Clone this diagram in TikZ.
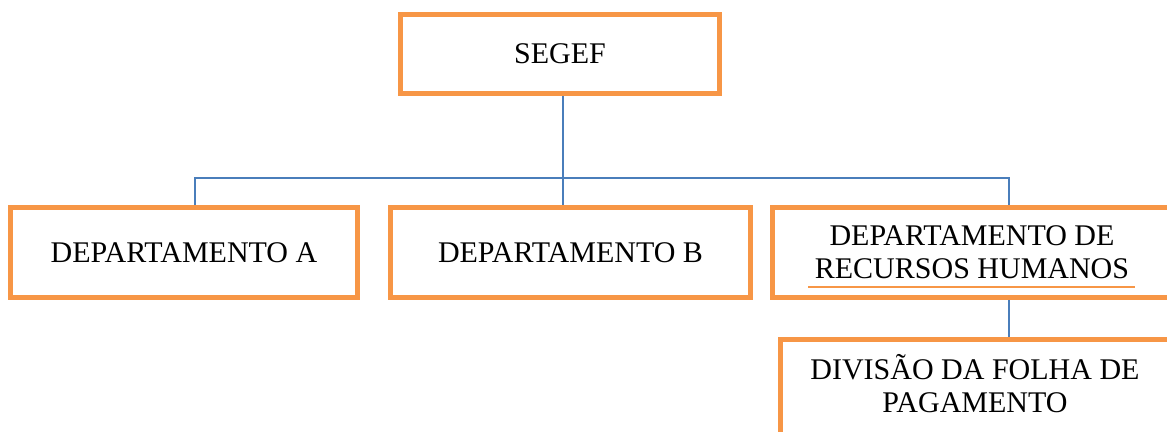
\documentclass[tikz,border=0pt]{standalone}
\usepackage{fontspec}
\setmainfont{Liberation Serif}
\usepackage{tikz}
\usetikzlibrary{positioning}
\usepackage{xcolor}
\definecolor{orgorange}{RGB}{247,150,70}
\definecolor{orgblue}{RGB}{74,126,187}
\tikzstyle{unit} = [rectangle, draw=orgorange, line width=2.5pt, fill=white, align=center, inner sep=0pt, minimum height=45pt, font=\fontsize{15}{16.5}\selectfont]
\tikzstyle{link} = [draw=orgblue, line width=0.75pt]
\tikzstyle{underline} = [draw=orgorange, line width=0.75pt]

\begin{document}
\begin{tikzpicture}[x=0.5pt, y=-0.5pt]
\useasboundingbox (0,0) rectangle (1167,432);
\clip (0,0) rectangle (1167,432);
% Top level
\node (segef) [unit, minimum width=159.5pt, minimum height=39.5pt] at (560,54) {SEGEF};
% Departments
\node (depA) [unit, minimum width=173.5pt] at (184,252.5) {DEPARTAMENTO A};
\node (depB) [unit, minimum width=180pt] at (570.5,252.5) {DEPARTAMENTO B};
\node (depRH) [unit, minimum width=199.5pt] at (972,252.5) {DEPARTAMENTO DE\\RECURSOS HUMANOS};
% Division (runs off the bottom edge)
\node (divFP) [unit, minimum width=195pt, minimum height=0pt, text height=36.75pt, text depth=30pt, anchor=north] at (975,337) {DIVIS\~AO DA FOLHA DE\\PAGAMENTO};

\draw[link] ([xshift=1.5pt]segef.south) -- ([xshift=-3.75pt]depB.north);
\draw[link] ([xshift=5.5pt]depA.north) -- ++(0,-27) -| ([xshift=18.5pt]depRH.north);
\draw[link] ([xshift=18.5pt]depRH.south) -- ([xshift=18.5pt]depRH.south |- divFP.north);

\draw[underline] (808,287) -- (1135,287);
\end{tikzpicture}
\end{document}
